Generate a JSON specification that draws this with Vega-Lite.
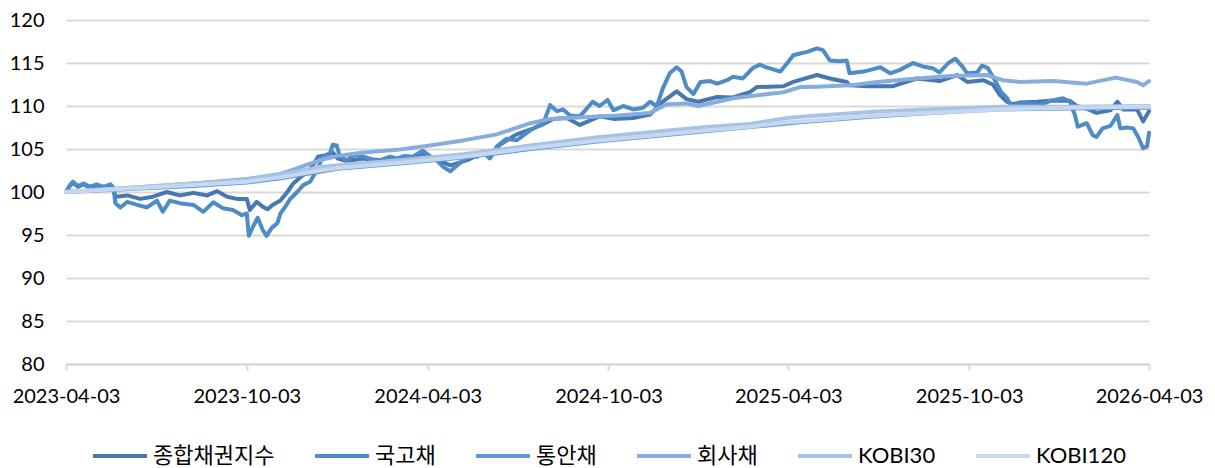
{
  "$schema": "https://vega.github.io/schema/vega-lite/v6.json",
  "width": 1083,
  "height": 344,
  "autosize": {"type": "none"},
  "padding": {"left": 66, "top": 20, "right": 66, "bottom": 104},
  "background": "white",
  "config": {
    "view": {"stroke": null},
    "font": "Lato"
  },
  "data": {
    "values": [
      {"d":"2023-04-03","s":"종합채권지수","v":100.0},
      {"d":"2023-04-07","s":"종합채권지수","v":100.7},
      {"d":"2023-04-10","s":"종합채권지수","v":101.1},
      {"d":"2023-04-15","s":"종합채권지수","v":100.6},
      {"d":"2023-04-21","s":"종합채권지수","v":100.9},
      {"d":"2023-04-27","s":"종합채권지수","v":100.5},
      {"d":"2023-05-04","s":"종합채권지수","v":100.8},
      {"d":"2023-05-11","s":"종합채권지수","v":100.5},
      {"d":"2023-05-18","s":"종합채권지수","v":100.8},
      {"d":"2023-05-21","s":"종합채권지수","v":100.4},
      {"d":"2023-05-23","s":"종합채권지수","v":99.45},
      {"d":"2023-06-04","s":"종합채권지수","v":99.6},
      {"d":"2023-06-17","s":"종합채권지수","v":99.2},
      {"d":"2023-06-30","s":"종합채권지수","v":99.45},
      {"d":"2023-07-14","s":"종합채권지수","v":100.0},
      {"d":"2023-07-27","s":"종합채권지수","v":99.6},
      {"d":"2023-08-10","s":"종합채권지수","v":99.9},
      {"d":"2023-08-24","s":"종합채권지수","v":99.6},
      {"d":"2023-09-03","s":"종합채권지수","v":100.1},
      {"d":"2023-09-13","s":"종합채권지수","v":99.45},
      {"d":"2023-09-23","s":"종합채권지수","v":99.2},
      {"d":"2023-10-03","s":"종합채권지수","v":99.2},
      {"d":"2023-10-06","s":"종합채권지수","v":97.9},
      {"d":"2023-10-13","s":"종합채권지수","v":98.85},
      {"d":"2023-10-19","s":"종합채권지수","v":98.3},
      {"d":"2023-10-24","s":"종합채권지수","v":98.0},
      {"d":"2023-10-29","s":"종합채권지수","v":98.5},
      {"d":"2023-11-06","s":"종합채권지수","v":99.0},
      {"d":"2023-11-13","s":"종합채권지수","v":100.0},
      {"d":"2023-11-19","s":"종합채권지수","v":101.0},
      {"d":"2023-11-26","s":"종합채권지수","v":101.7},
      {"d":"2023-12-03","s":"종합채권지수","v":102.3},
      {"d":"2023-12-09","s":"종합채권지수","v":103.1},
      {"d":"2023-12-14","s":"종합채권지수","v":104.1},
      {"d":"2023-12-23","s":"종합채권지수","v":104.3},
      {"d":"2023-12-29","s":"종합채권지수","v":104.6},
      {"d":"2024-01-03","s":"종합채권지수","v":103.9},
      {"d":"2024-01-12","s":"종합채권지수","v":103.6},
      {"d":"2024-01-29","s":"종합채권지수","v":103.9},
      {"d":"2024-02-15","s":"종합채권지수","v":103.6},
      {"d":"2024-03-03","s":"종합채권지수","v":103.8},
      {"d":"2024-03-19","s":"종합채권지수","v":104.0},
      {"d":"2024-03-29","s":"종합채권지수","v":104.5},
      {"d":"2024-04-12","s":"종합채권지수","v":103.8},
      {"d":"2024-04-26","s":"종합채권지수","v":103.1},
      {"d":"2024-05-13","s":"종합채권지수","v":103.7},
      {"d":"2024-05-29","s":"종합채권지수","v":104.6},
      {"d":"2024-06-05","s":"종합채권지수","v":104.0},
      {"d":"2024-06-15","s":"종합채권지수","v":105.5},
      {"d":"2024-07-02","s":"종합채권지수","v":106.7},
      {"d":"2024-07-19","s":"종합채권지수","v":107.4},
      {"d":"2024-07-29","s":"종합채권지수","v":107.9},
      {"d":"2024-08-08","s":"종합채권지수","v":108.5},
      {"d":"2024-08-22","s":"종합채권지수","v":108.6},
      {"d":"2024-09-04","s":"종합채권지수","v":107.8},
      {"d":"2024-09-24","s":"종합채권지수","v":108.8},
      {"d":"2024-10-08","s":"종합채권지수","v":108.5},
      {"d":"2024-10-28","s":"종합채권지수","v":108.6},
      {"d":"2024-11-14","s":"종합채권지수","v":109.0},
      {"d":"2024-11-27","s":"종합채권지수","v":110.5},
      {"d":"2024-12-11","s":"종합채권지수","v":111.7},
      {"d":"2024-12-21","s":"종합채권지수","v":110.8},
      {"d":"2025-01-02","s":"종합채권지수","v":110.5},
      {"d":"2025-01-21","s":"종합채권지수","v":111.05},
      {"d":"2025-02-06","s":"종합채권지수","v":111.0},
      {"d":"2025-02-23","s":"종합채권지수","v":111.6},
      {"d":"2025-03-02","s":"종합채권지수","v":112.2},
      {"d":"2025-03-29","s":"종합채권지수","v":112.3},
      {"d":"2025-04-08","s":"종합채권지수","v":112.8},
      {"d":"2025-05-02","s":"종합채권지수","v":113.6},
      {"d":"2025-05-15","s":"종합채권지수","v":113.2},
      {"d":"2025-06-01","s":"종합채권지수","v":112.8},
      {"d":"2025-06-04","s":"종합채권지수","v":112.4},
      {"d":"2025-06-22","s":"종합채권지수","v":112.3},
      {"d":"2025-07-18","s":"종합채권지수","v":112.3},
      {"d":"2025-08-11","s":"종합채권지수","v":113.2},
      {"d":"2025-09-03","s":"종합채권지수","v":112.9},
      {"d":"2025-09-21","s":"종합채권지수","v":113.6},
      {"d":"2025-10-01","s":"종합채권지수","v":112.8},
      {"d":"2025-10-17","s":"종합채권지수","v":113.0},
      {"d":"2025-10-27","s":"종합채권지수","v":112.5},
      {"d":"2025-11-03","s":"종합채권지수","v":111.3},
      {"d":"2025-11-10","s":"종합채권지수","v":110.5},
      {"d":"2025-11-16","s":"종합채권지수","v":110.2},
      {"d":"2025-11-23","s":"종합채권지수","v":110.4},
      {"d":"2025-12-11","s":"종합채권지수","v":110.5},
      {"d":"2025-12-27","s":"종합채권지수","v":110.65},
      {"d":"2026-01-13","s":"종합채권지수","v":110.6},
      {"d":"2026-01-20","s":"종합채권지수","v":110.0},
      {"d":"2026-01-30","s":"종합채권지수","v":109.7},
      {"d":"2026-02-09","s":"종합채권지수","v":109.2},
      {"d":"2026-02-23","s":"종합채권지수","v":109.5},
      {"d":"2026-03-02","s":"종합채권지수","v":110.5},
      {"d":"2026-03-08","s":"종합채권지수","v":109.6},
      {"d":"2026-03-22","s":"종합채권지수","v":109.6},
      {"d":"2026-03-28","s":"종합채권지수","v":108.2},
      {"d":"2026-04-03","s":"종합채권지수","v":109.4},

      {"d":"2023-04-03","s":"국고채","v":100.0},
      {"d":"2023-04-07","s":"국고채","v":100.8},
      {"d":"2023-04-10","s":"국고채","v":101.2},
      {"d":"2023-04-15","s":"국고채","v":100.7},
      {"d":"2023-04-21","s":"국고채","v":101.0},
      {"d":"2023-04-27","s":"국고채","v":100.6},
      {"d":"2023-05-04","s":"국고채","v":100.9},
      {"d":"2023-05-11","s":"국고채","v":100.6},
      {"d":"2023-05-18","s":"국고채","v":100.9},
      {"d":"2023-05-21","s":"국고채","v":100.5},
      {"d":"2023-05-23","s":"국고채","v":98.7},
      {"d":"2023-05-28","s":"국고채","v":98.2},
      {"d":"2023-06-04","s":"국고채","v":98.85},
      {"d":"2023-06-14","s":"국고채","v":98.5},
      {"d":"2023-06-24","s":"국고채","v":98.2},
      {"d":"2023-07-04","s":"국고채","v":99.0},
      {"d":"2023-07-10","s":"국고채","v":97.7},
      {"d":"2023-07-17","s":"국고채","v":99.0},
      {"d":"2023-07-27","s":"국고채","v":98.7},
      {"d":"2023-08-10","s":"국고채","v":98.5},
      {"d":"2023-08-20","s":"국고채","v":97.7},
      {"d":"2023-08-30","s":"국고채","v":98.8},
      {"d":"2023-09-09","s":"국고채","v":98.1},
      {"d":"2023-09-19","s":"국고채","v":97.9},
      {"d":"2023-09-28","s":"국고채","v":97.3},
      {"d":"2023-10-03","s":"국고채","v":97.5},
      {"d":"2023-10-05","s":"국고채","v":94.9},
      {"d":"2023-10-09","s":"국고채","v":95.9},
      {"d":"2023-10-14","s":"국고채","v":97.0},
      {"d":"2023-10-19","s":"국고채","v":95.6},
      {"d":"2023-10-23","s":"국고채","v":94.9},
      {"d":"2023-10-28","s":"국고채","v":95.8},
      {"d":"2023-11-03","s":"국고채","v":96.4},
      {"d":"2023-11-06","s":"국고채","v":97.5},
      {"d":"2023-11-11","s":"국고채","v":98.3},
      {"d":"2023-11-16","s":"국고채","v":99.2},
      {"d":"2023-11-23","s":"국고채","v":100.0},
      {"d":"2023-11-29","s":"국고채","v":100.8},
      {"d":"2023-12-06","s":"국고채","v":101.2},
      {"d":"2023-12-13","s":"국고채","v":102.55},
      {"d":"2023-12-19","s":"국고채","v":104.1},
      {"d":"2023-12-26","s":"국고채","v":104.5},
      {"d":"2023-12-29","s":"국고채","v":105.5},
      {"d":"2024-01-02","s":"국고채","v":105.4},
      {"d":"2024-01-05","s":"국고채","v":104.2},
      {"d":"2024-01-12","s":"국고채","v":103.7},
      {"d":"2024-01-20","s":"국고채","v":104.3},
      {"d":"2024-01-29","s":"국고채","v":104.1},
      {"d":"2024-02-07","s":"국고채","v":103.8},
      {"d":"2024-02-15","s":"국고채","v":103.7},
      {"d":"2024-02-25","s":"국고채","v":104.1},
      {"d":"2024-03-03","s":"국고채","v":103.9},
      {"d":"2024-03-11","s":"국고채","v":104.2},
      {"d":"2024-03-19","s":"국고채","v":104.1},
      {"d":"2024-03-29","s":"국고채","v":104.8},
      {"d":"2024-04-05","s":"국고채","v":104.2},
      {"d":"2024-04-12","s":"국고채","v":103.7},
      {"d":"2024-04-19","s":"국고채","v":102.9},
      {"d":"2024-04-26","s":"국고채","v":102.4},
      {"d":"2024-05-01","s":"국고채","v":102.9},
      {"d":"2024-05-06","s":"국고채","v":103.4},
      {"d":"2024-05-16","s":"국고채","v":104.3},
      {"d":"2024-05-23","s":"국고채","v":104.1},
      {"d":"2024-05-29","s":"국고채","v":104.7},
      {"d":"2024-06-05","s":"국고채","v":103.9},
      {"d":"2024-06-12","s":"국고채","v":105.3},
      {"d":"2024-06-22","s":"국고채","v":106.2},
      {"d":"2024-07-02","s":"국고채","v":106.0},
      {"d":"2024-07-16","s":"국고채","v":107.2},
      {"d":"2024-07-29","s":"국고채","v":108.0},
      {"d":"2024-08-05","s":"국고채","v":110.1},
      {"d":"2024-08-12","s":"국고채","v":109.4},
      {"d":"2024-08-18","s":"국고채","v":109.6},
      {"d":"2024-08-25","s":"국고채","v":108.9},
      {"d":"2024-09-04","s":"국고채","v":108.8},
      {"d":"2024-09-11","s":"국고채","v":109.7},
      {"d":"2024-09-17","s":"국고채","v":110.5},
      {"d":"2024-09-24","s":"국고채","v":110.0},
      {"d":"2024-10-02","s":"국고채","v":110.7},
      {"d":"2024-10-08","s":"국고채","v":109.5},
      {"d":"2024-10-18","s":"국고채","v":110.0},
      {"d":"2024-10-28","s":"국고채","v":109.6},
      {"d":"2024-11-07","s":"국고채","v":109.8},
      {"d":"2024-11-14","s":"국고채","v":110.5},
      {"d":"2024-11-21","s":"국고채","v":110.0},
      {"d":"2024-11-27","s":"국고채","v":112.05},
      {"d":"2024-12-04","s":"국고채","v":113.8},
      {"d":"2024-12-11","s":"국고채","v":114.5},
      {"d":"2024-12-16","s":"국고채","v":114.0},
      {"d":"2024-12-21","s":"국고채","v":112.2},
      {"d":"2024-12-28","s":"국고채","v":111.4},
      {"d":"2025-01-04","s":"국고채","v":112.8},
      {"d":"2025-01-14","s":"국고채","v":112.9},
      {"d":"2025-01-21","s":"국고채","v":112.6},
      {"d":"2025-01-31","s":"국고채","v":113.0},
      {"d":"2025-02-06","s":"국고채","v":113.4},
      {"d":"2025-02-16","s":"국고채","v":113.2},
      {"d":"2025-02-26","s":"국고채","v":114.4},
      {"d":"2025-03-05","s":"국고채","v":114.8},
      {"d":"2025-03-12","s":"국고채","v":114.5},
      {"d":"2025-03-26","s":"국고채","v":114.0},
      {"d":"2025-04-02","s":"국고채","v":115.0},
      {"d":"2025-04-08","s":"국고채","v":115.9},
      {"d":"2025-04-15","s":"국고채","v":116.1},
      {"d":"2025-04-22","s":"국고채","v":116.3},
      {"d":"2025-05-02","s":"국고채","v":116.7},
      {"d":"2025-05-08","s":"국고채","v":116.5},
      {"d":"2025-05-15","s":"국고채","v":115.3},
      {"d":"2025-05-25","s":"국고채","v":115.2},
      {"d":"2025-06-01","s":"국고채","v":115.3},
      {"d":"2025-06-04","s":"국고채","v":113.8},
      {"d":"2025-06-18","s":"국고채","v":114.0},
      {"d":"2025-06-25","s":"국고채","v":114.2},
      {"d":"2025-07-05","s":"국고채","v":114.5},
      {"d":"2025-07-15","s":"국고채","v":113.8},
      {"d":"2025-07-25","s":"국고채","v":114.2},
      {"d":"2025-08-07","s":"국고채","v":115.0},
      {"d":"2025-08-17","s":"국고채","v":114.6},
      {"d":"2025-08-27","s":"국고채","v":114.4},
      {"d":"2025-09-03","s":"국고채","v":113.9},
      {"d":"2025-09-12","s":"국고채","v":115.0},
      {"d":"2025-09-19","s":"국고채","v":115.5},
      {"d":"2025-09-26","s":"국고채","v":114.6},
      {"d":"2025-10-01","s":"국고채","v":113.8},
      {"d":"2025-10-11","s":"국고채","v":113.9},
      {"d":"2025-10-16","s":"국고채","v":114.7},
      {"d":"2025-10-22","s":"국고채","v":114.4},
      {"d":"2025-10-29","s":"국고채","v":113.0},
      {"d":"2025-11-05","s":"국고채","v":111.5},
      {"d":"2025-11-10","s":"국고채","v":111.0},
      {"d":"2025-11-15","s":"국고채","v":109.9},
      {"d":"2025-11-23","s":"국고채","v":110.3},
      {"d":"2025-12-04","s":"국고채","v":110.3},
      {"d":"2025-12-14","s":"국고채","v":110.1},
      {"d":"2025-12-24","s":"국고채","v":110.6},
      {"d":"2026-01-06","s":"국고채","v":110.9},
      {"d":"2026-01-13","s":"국고채","v":110.5},
      {"d":"2026-01-18","s":"국고채","v":108.95},
      {"d":"2026-01-21","s":"국고채","v":107.6},
      {"d":"2026-01-30","s":"국고채","v":108.0},
      {"d":"2026-02-05","s":"국고채","v":106.6},
      {"d":"2026-02-09","s":"국고채","v":106.4},
      {"d":"2026-02-15","s":"국고채","v":107.4},
      {"d":"2026-02-23","s":"국고채","v":107.7},
      {"d":"2026-03-02","s":"국고채","v":108.95},
      {"d":"2026-03-05","s":"국고채","v":107.4},
      {"d":"2026-03-12","s":"국고채","v":107.5},
      {"d":"2026-03-18","s":"국고채","v":107.4},
      {"d":"2026-03-23","s":"국고채","v":106.4},
      {"d":"2026-03-28","s":"국고채","v":105.1},
      {"d":"2026-04-01","s":"국고채","v":105.3},
      {"d":"2026-04-03","s":"국고채","v":106.9},

      {"d":"2023-04-03","s":"통안채","v":100.0},
      {"d":"2023-08-10","s":"통안채","v":100.7},
      {"d":"2023-10-03","s":"통안채","v":101.1},
      {"d":"2023-11-06","s":"통안채","v":101.6},
      {"d":"2024-01-03","s":"통안채","v":102.7},
      {"d":"2024-03-06","s":"통안채","v":103.3},
      {"d":"2024-05-09","s":"통안채","v":104.0},
      {"d":"2024-07-16","s":"통안채","v":105.0},
      {"d":"2024-09-24","s":"통안채","v":105.9},
      {"d":"2025-01-04","s":"통안채","v":107.0},
      {"d":"2025-04-15","s":"통안채","v":108.1},
      {"d":"2025-07-02","s":"통안채","v":108.8},
      {"d":"2025-09-14","s":"통안채","v":109.3},
      {"d":"2025-11-03","s":"통안채","v":109.6},
      {"d":"2026-01-10","s":"통안채","v":109.7},
      {"d":"2026-04-03","s":"통안채","v":109.8},

      {"d":"2023-04-03","s":"회사채","v":100.0},
      {"d":"2023-05-28","s":"회사채","v":100.4},
      {"d":"2023-08-10","s":"회사채","v":101.0},
      {"d":"2023-10-03","s":"회사채","v":101.5},
      {"d":"2023-11-06","s":"회사채","v":102.1},
      {"d":"2023-11-19","s":"회사채","v":102.6},
      {"d":"2023-12-06","s":"회사채","v":103.3},
      {"d":"2023-12-23","s":"회사채","v":103.9},
      {"d":"2024-01-03","s":"회사채","v":104.2},
      {"d":"2024-01-29","s":"회사채","v":104.6},
      {"d":"2024-03-03","s":"회사채","v":104.9},
      {"d":"2024-04-05","s":"회사채","v":105.4},
      {"d":"2024-05-09","s":"회사채","v":106.0},
      {"d":"2024-06-12","s":"회사채","v":106.7},
      {"d":"2024-07-16","s":"회사채","v":108.0},
      {"d":"2024-08-05","s":"회사채","v":108.5},
      {"d":"2024-08-22","s":"회사채","v":108.6},
      {"d":"2024-09-07","s":"회사채","v":108.7},
      {"d":"2024-10-12","s":"회사채","v":108.9},
      {"d":"2024-11-14","s":"회사채","v":109.2},
      {"d":"2024-12-01","s":"회사채","v":110.2},
      {"d":"2024-12-21","s":"회사채","v":110.3},
      {"d":"2025-01-02","s":"회사채","v":110.0},
      {"d":"2025-02-06","s":"회사채","v":110.9},
      {"d":"2025-03-29","s":"회사채","v":111.6},
      {"d":"2025-04-15","s":"회사채","v":112.2},
      {"d":"2025-05-02","s":"회사채","v":112.25},
      {"d":"2025-06-04","s":"회사채","v":112.4},
      {"d":"2025-07-02","s":"회사채","v":112.8},
      {"d":"2025-08-11","s":"회사채","v":113.2},
      {"d":"2025-09-14","s":"회사채","v":113.5},
      {"d":"2025-10-21","s":"회사채","v":113.6},
      {"d":"2025-11-06","s":"회사채","v":113.0},
      {"d":"2025-11-23","s":"회사채","v":112.8},
      {"d":"2025-12-27","s":"회사채","v":112.9},
      {"d":"2026-01-30","s":"회사채","v":112.6},
      {"d":"2026-02-28","s":"회사채","v":113.3},
      {"d":"2026-03-22","s":"회사채","v":112.8},
      {"d":"2026-03-28","s":"회사채","v":112.4},
      {"d":"2026-04-03","s":"회사채","v":112.9},

      {"d":"2023-04-03","s":"KOBI30","v":100.0},
      {"d":"2023-08-10","s":"KOBI30","v":101.0},
      {"d":"2023-10-03","s":"KOBI30","v":101.4},
      {"d":"2023-11-06","s":"KOBI30","v":102.0},
      {"d":"2023-12-16","s":"KOBI30","v":102.9},
      {"d":"2024-01-03","s":"KOBI30","v":103.1},
      {"d":"2024-03-06","s":"KOBI30","v":103.7},
      {"d":"2024-05-09","s":"KOBI30","v":104.4},
      {"d":"2024-07-16","s":"KOBI30","v":105.4},
      {"d":"2024-09-24","s":"KOBI30","v":106.4},
      {"d":"2025-01-04","s":"KOBI30","v":107.5},
      {"d":"2025-02-23","s":"KOBI30","v":107.9},
      {"d":"2025-04-02","s":"KOBI30","v":108.6},
      {"d":"2025-04-15","s":"KOBI30","v":108.75},
      {"d":"2025-07-02","s":"KOBI30","v":109.35},
      {"d":"2025-09-14","s":"KOBI30","v":109.7},
      {"d":"2025-11-03","s":"KOBI30","v":109.9},
      {"d":"2026-01-10","s":"KOBI30","v":109.9},
      {"d":"2026-04-03","s":"KOBI30","v":110.0},

      {"d":"2023-04-03","s":"KOBI120","v":100.0},
      {"d":"2023-08-10","s":"KOBI120","v":100.8},
      {"d":"2023-10-03","s":"KOBI120","v":101.2},
      {"d":"2023-11-06","s":"KOBI120","v":101.7},
      {"d":"2023-12-16","s":"KOBI120","v":102.5},
      {"d":"2024-01-03","s":"KOBI120","v":102.8},
      {"d":"2024-03-06","s":"KOBI120","v":103.4},
      {"d":"2024-05-09","s":"KOBI120","v":104.1},
      {"d":"2024-07-16","s":"KOBI120","v":105.1},
      {"d":"2024-09-24","s":"KOBI120","v":106.0},
      {"d":"2025-01-04","s":"KOBI120","v":107.1},
      {"d":"2025-02-23","s":"KOBI120","v":107.6},
      {"d":"2025-04-02","s":"KOBI120","v":108.1},
      {"d":"2025-04-15","s":"KOBI120","v":108.2},
      {"d":"2025-07-02","s":"KOBI120","v":108.9},
      {"d":"2025-09-14","s":"KOBI120","v":109.3},
      {"d":"2025-11-03","s":"KOBI120","v":109.6},
      {"d":"2026-01-10","s":"KOBI120","v":109.8},
      {"d":"2026-04-03","s":"KOBI120","v":109.9}
    ]
  },
  "mark": {"type": "line", "strokeWidth": 4, "strokeJoin": "round", "strokeCap": "round"},
  "encoding": {
    "x": {
      "field": "d",
      "type": "temporal",
      "scale": {
        "type": "utc",
        "domain": [
          {"year": 2023, "month": 4, "date": 3, "utc": true},
          {"year": 2026, "month": 4, "date": 3, "utc": true}
        ]
      },
      "axis": {
        "title": null,
        "values": [
          {"year": 2023, "month": 4, "date": 3, "utc": true},
          {"year": 2023, "month": 10, "date": 3, "utc": true},
          {"year": 2024, "month": 4, "date": 3, "utc": true},
          {"year": 2024, "month": 10, "date": 3, "utc": true},
          {"year": 2025, "month": 4, "date": 3, "utc": true},
          {"year": 2025, "month": 10, "date": 3, "utc": true},
          {"year": 2026, "month": 4, "date": 3, "utc": true}
        ],
        "format": "%Y-%m-%d",
        "grid": false,
        "domainColor": "#d9d9d9",
        "domainWidth": 2,
        "tickColor": "#d9d9d9",
        "tickWidth": 2,
        "tickSize": 6,
        "labelFont": "Lato",
        "labelFontSize": 20,
        "labelColor": "#000000",
        "labelPadding": 16,
        "labelOverlap": false,
        "labelFlush": false
      }
    },
    "y": {
      "field": "v",
      "type": "quantitative",
      "scale": {"domain": [80, 120], "nice": false, "zero": false},
      "axis": {
        "title": null,
        "values": [80, 85, 90, 95, 100, 105, 110, 115, 120],
        "domain": false,
        "ticks": false,
        "gridColor": "#d9d9d9",
        "gridWidth": 2,
        "labelFont": "Lato",
        "labelFontSize": 20,
        "labelColor": "#000000",
        "labelPadding": 22
      }
    },
    "color": {
      "field": "s",
      "type": "nominal",
      "sort": ["종합채권지수", "국고채", "통안채", "회사채", "KOBI30", "KOBI120"],
      "scale": {
        "domain": ["종합채권지수", "국고채", "통안채", "회사채", "KOBI30", "KOBI120"],
        "range": ["#4779b0", "#4f8cc6", "#5b9bd5", "#85aedf", "#a9c3e6", "#c6d7ef"]
      },
      "legend": {
        "title": null,
        "orient": "none",
        "direction": "horizontal",
        "columns": 6,
        "legendX": 25,
        "legendY": 407,
        "symbolType": "stroke",
        "symbolSize": 2916,
        "symbolStrokeWidth": 4,
        "labelFont": "Lato, Noto Sans CJK KR",
        "labelFontSize": 22,
        "labelColor": "#000000",
        "labelOffset": 4,
        "columnPadding": 32
      }
    }
  }
}
